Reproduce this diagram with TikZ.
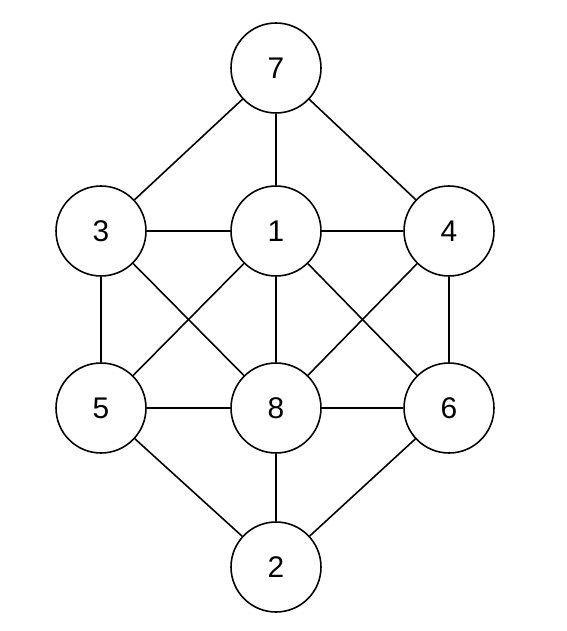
\documentclass[tikz,border=0pt]{standalone}
\usepackage{fontspec}
\setmainfont{Liberation Sans}
\usepackage{tikz}
\usetikzlibrary{positioning}
\tikzset{
  vertex/.style={draw=black,circle,line width=0.9pt,minimum size=1.8cm,inner sep=0pt,font=\fontsize{17}{20}\selectfont},
  edge/.style={line width=0.9pt}
}

\begin{document}
\begin{tikzpicture}[x=0.02cm,y=-0.02cm]
  \useasboundingbox (0,0) rectangle (566,631);
  % vertices
  \node[vertex] (v7) at (276,68) {7};
  \node[vertex] (v3) at (101,231) {3};
  \node[vertex] (v1) at (276,231) {1};
  \node[vertex] (v4) at (449,231) {4};
  \node[vertex] (v5) at (101,408) {5};
  \node[vertex] (v8) at (276,408) {8};
  \node[vertex] (v6) at (449,408) {6};
  \node[vertex] (v2) at (276,567) {2};
  % edges
  \foreach \a/\b in {7/3,7/1,7/4,3/1,1/4,3/5,4/6,3/8,1/5,1/8,1/6,4/8,5/8,8/6,5/2,8/2,6/2}
    {\draw[edge] (v\a) -- (v\b);}
\end{tikzpicture}
\end{document}
